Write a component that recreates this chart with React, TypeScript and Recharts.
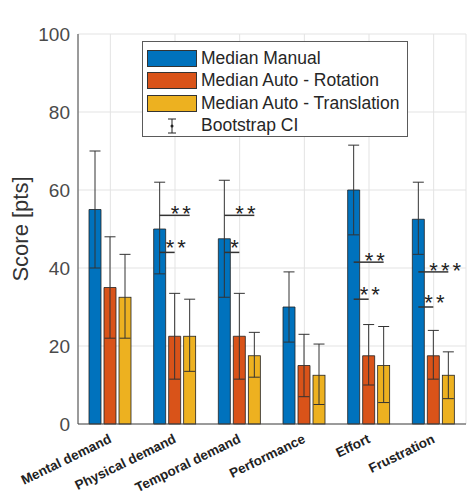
import { Bar, BarChart, CartesianGrid, ErrorBar, Label, Legend, XAxis, YAxis } from 'recharts';

const categories = ['Mental demand', 'Physical demand', 'Temporal demand', 'Performance', 'Effort', 'Frustration'];

const manual = [55, 50, 47.5, 30, 60, 52.5];
const manualLow = [40, 38.5, 32.5, 21, 48.5, 43.5];
const manualHigh = [70, 62, 62.5, 39, 71.5, 62];

const rotation = [35, 22.5, 22.5, 15, 17.5, 17.5];
const rotationLow = [22, 11.5, 11.5, 7, 10, 11.5];
const rotationHigh = [48, 33.5, 33.5, 23, 25.5, 24];

const translation = [32.5, 22.5, 17.5, 12.5, 15, 12.5];
const translationLow = [22, 13.5, 12, 5, 5.5, 6.5];
const translationHigh = [43.5, 32, 23.5, 20.5, 25, 18.5];

// significance: manual vs translation (upper), manual vs rotation (lower)
const sigUpper = [null, 53.5, 53.5, null, 41.5, 39];
const sigUpperLabel = ['', '**', '**', '', '**', '***'];
const sigLower = [null, 44, 44, null, 32, 30];
const sigLowerLabel = ['', '**', '*', '', '**', '**'];

const yTicks = [0, 20, 40, 60, 80, 100];

const BLUE = '#0072BD';
const ORANGE = '#D95319';
const YELLOW = '#EDB120';
const FONT = '"Liberation Sans", Arial, sans-serif';
const BAR = 12;
const GAP = 3;

const data = categories.map((name, i) => ({
  name,
  manual: manual[i],
  manualErr: [manual[i] - manualLow[i], manualHigh[i] - manual[i]],
  rotation: rotation[i],
  rotationErr: [rotation[i] - rotationLow[i], rotationHigh[i] - rotation[i]],
  translation: translation[i],
  translationErr: [translation[i] - translationLow[i], translationHigh[i] - translation[i]],
  sigUpper: sigUpper[i],
  sigUpperLabel: sigUpperLabel[i],
  sigLower: sigLower[i],
  sigLowerLabel: sigLowerLabel[i],
}));

// yellow bar + significance marks (pixel scale taken from the bar itself)
function TranslationBar(props: any) {
  const { x, y, width, height, fill, payload } = props;
  const base = y + height;
  const k = height / payload.translation;
  const toY = (v: number) => base - v * k;
  const cx = x + width / 2;
  const blueX = cx - 2 * (BAR + GAP);
  const orangeX = cx - (BAR + GAP);
  return (
    <g>
      <rect x={x} y={y} width={width} height={height} fill={fill} stroke="#222" strokeWidth={0.8} />
      {payload.sigUpper != null && (
        <g>
          <line x1={blueX} x2={cx} y1={toY(payload.sigUpper)} y2={toY(payload.sigUpper)} stroke="#333" strokeWidth={1.5} />
          <text x={blueX + 11} y={toY(payload.sigUpper) + 6} fontSize={22} letterSpacing={3} fill="#222" fontFamily={FONT}>
            {payload.sigUpperLabel}
          </text>
        </g>
      )}
      {payload.sigLower != null && (
        <g>
          <line x1={blueX} x2={orangeX} y1={toY(payload.sigLower)} y2={toY(payload.sigLower)} stroke="#333" strokeWidth={1.5} />
          <text x={blueX + 6} y={toY(payload.sigLower) + 3} fontSize={22} letterSpacing={3} fill="#222" fontFamily={FONT}>
            {payload.sigLowerLabel}
          </text>
        </g>
      )}
    </g>
  );
}

function XTick(props: any) {
  const { x, y, payload } = props;
  const tx = x + 2;
  const ty = y + 18;
  return (
    <text x={tx} y={ty} transform={`rotate(-26 ${tx} ${ty})`} textAnchor="end" fontSize={13.5} fontWeight="bold" fill="#222" fontFamily={FONT}>
      {payload.value}
    </text>
  );
}

function LegendBox() {
  const rows = [
    { label: 'Median Manual', color: BLUE },
    { label: 'Median Auto - Rotation', color: ORANGE },
    { label: 'Median Auto - Translation', color: YELLOW },
    { label: 'Bootstrap CI', color: null },
  ];
  return (
    <div style={{ border: '1px solid #5a5a5a', background: '#fff', padding: '5px 6px 4px 4px', fontFamily: FONT, fontSize: 17.5, color: '#262626', boxSizing: 'border-box', width: 266, height: 96 }}>
      {rows.map((r) => (
        <div key={r.label} style={{ display: 'flex', alignItems: 'center', height: 22.5 }}>
          {r.color ? (
            <div style={{ width: 48, height: 15, background: r.color, border: '1px solid #333', marginRight: 4 }} />
          ) : (
            <svg width={50} height={20} style={{ marginRight: 4 }}>
              <line x1={25} x2={25} y1={3} y2={17} stroke="#222" />
              <line x1={21} x2={29} y1={3} y2={3} stroke="#222" />
              <line x1={21} x2={29} y1={17} y2={17} stroke="#222" />
              <circle cx={25} cy={10} r={1.5} fill="#222" />
            </svg>
          )}
          <span>{r.label}</span>
        </div>
      ))}
    </div>
  );
}

export default function App() {
  return (
    <div style={{ position: 'absolute', left: 0, top: 0, background: '#fff' }}>
      <BarChart width={467} height={493} data={data} margin={{ top: 34, right: 1, left: 0, bottom: 0 }} barSize={BAR} barGap={GAP}>
        <CartesianGrid stroke="#e3e3e3" />
        <XAxis dataKey="name" height={69} tickLine={false} tickSize={0} tickMargin={0} tick={<XTick />} interval={0} axisLine={{ stroke: '#444' }} />
        <XAxis xAxisId="top" dataKey="name" orientation="top" height={0} tick={false} tickLine={false} axisLine={{ stroke: '#444' }}>
          <Label value="NASA - TLX" position="top" offset={8} fontSize={20} fontWeight="bold" fill="#111" fontFamily={FONT} />
        </XAxis>
        <YAxis
          width={78}
          domain={[0, 100]}
          ticks={yTicks}
          tickLine={false}
          axisLine={{ stroke: '#444' }}
          tick={{ fontSize: 19, fill: '#4a4a4a', fontFamily: FONT }}
        >
          <Label
            content={(p: any) => {
              const vb = p.viewBox;
              const lx = vb.x + 28;
              const ly = vb.y + vb.height / 2;
              return (
                <text x={lx} y={ly} transform={`rotate(-90 ${lx} ${ly})`} textAnchor="middle" fontSize={22} fill="#333" fontFamily={FONT}>
                  Score [pts]
                </text>
              );
            }}
          />
        </YAxis>
        <YAxis yAxisId="right" orientation="right" width={0} domain={[0, 100]} tick={false} tickLine={false} axisLine={{ stroke: '#444' }} />
        <Legend
          layout="vertical"
          align="center"
          verticalAlign="middle"
          content={<LegendBox />}
          wrapperStyle={{ top: 41, left: 142, width: 266, height: 96 }}
        />
        <Bar dataKey="manual" name="Median Manual" fill={BLUE} stroke="#222" strokeWidth={0.8} isAnimationActive={false}>
          <ErrorBar dataKey="manualErr" width={5.5} stroke="#333" strokeWidth={1} isAnimationActive={false} />
        </Bar>
        <Bar dataKey="rotation" name="Median Auto - Rotation" fill={ORANGE} stroke="#222" strokeWidth={0.8} isAnimationActive={false}>
          <ErrorBar dataKey="rotationErr" width={5.5} stroke="#333" strokeWidth={1} isAnimationActive={false} />
        </Bar>
        <Bar dataKey="translation" name="Median Auto - Translation" fill={YELLOW} shape={<TranslationBar />} isAnimationActive={false}>
          <ErrorBar dataKey="translationErr" width={5.5} stroke="#333" strokeWidth={1} isAnimationActive={false} />
        </Bar>
      </BarChart>
    </div>
  );
}
